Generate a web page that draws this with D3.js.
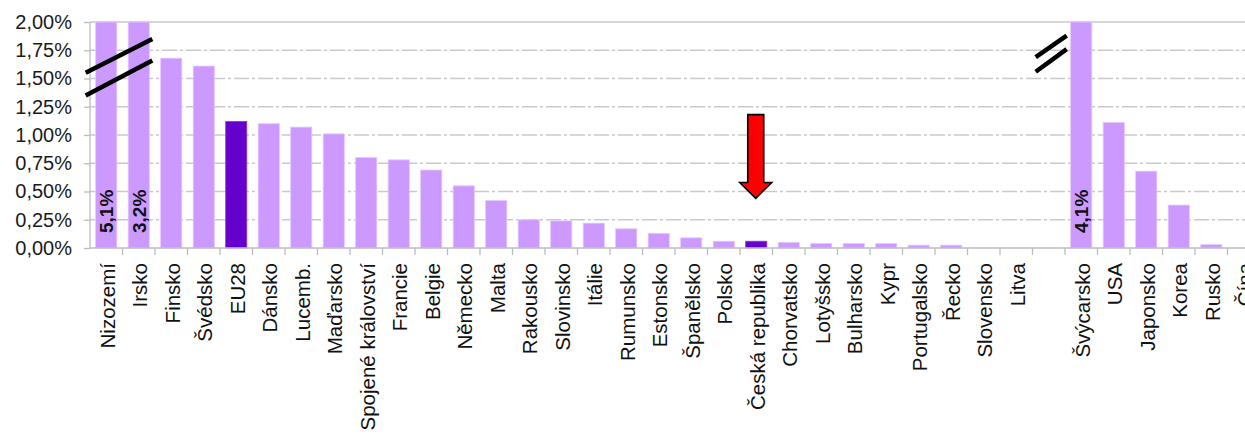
<!DOCTYPE html>
<html><head><meta charset="utf-8">
<script src="https://cdn.jsdelivr.net/npm/d3@7"></script>
<style>
html,body{margin:0;padding:0;background:#fff;overflow:hidden}
svg{display:block;font-family:"Liberation Sans",Arial,sans-serif}
</style></head>
<body>
<svg id="c" width="1245" height="437"></svg>
<script>
const categories = ["Nizozemí","Irsko","Finsko","Švédsko","EU28","Dánsko","Lucemb.","Maďarsko","Spojené království","Francie","Belgie","Německo","Malta","Rakousko","Slovinsko","Itálie","Rumunsko","Estonsko","Španělsko","Polsko","Česká republika","Chorvatsko","Lotyšsko","Bulharsko","Kypr","Portugalsko","Řecko","Slovensko","Litva"," ","Švýcarsko","USA","Japonsko","Korea","Rusko","Čína"];
const values = [5.1,3.2,1.68,1.61,1.12,1.10,1.07,1.01,0.80,0.78,0.69,0.55,0.42,0.25,0.24,0.22,0.17,0.13,0.09,0.06,0.06,0.05,0.04,0.04,0.04,0.025,0.025,0,0,null,4.1,1.11,0.68,0.38,0.03,0];
const highlighted = ["EU28","Česká republika"];
const yTicks = [0,0.25,0.5,0.75,1,1.25,1.5,1.75,2];
const yMax = 2;

const svg = d3.select("#c");
const x = d3.scaleBand().domain(categories).range([90,1260]).paddingInner(0.35).paddingOuter(0.175);
const y = d3.scaleLinear().domain([0,yMax]).range([248,22]);
const step = x.step();
const fmt = v => d3.format(".2f")(v).replace(".",",") + "%";
const fmt1 = v => d3.format(".1f")(v).replace(".",",") + "%";

// gridlines
svg.append("g").selectAll("line").data(yTicks.filter(t=>t>0)).join("line")
  .attr("x1",90).attr("x2",1245).attr("y1",d=>y(d)).attr("y2",d=>y(d))
  .attr("stroke","#c9c9c9").attr("stroke-width",1.3)
  .attr("stroke-dasharray",d=>d===yMax?null:"15,3,3,3");

// y axis
const yAxis = d3.axisLeft(y).tickValues(yTicks).tickFormat(fmt).tickSize(6).tickPadding(12);
const gy = svg.append("g").attr("transform","translate(90,0)").call(yAxis);
gy.select(".domain").attr("stroke","#bdbdbd").attr("stroke-width",1.3).attr("d","M0,22V248");
gy.selectAll(".tick line").attr("stroke","#bdbdbd").attr("stroke-width",1.3);
gy.selectAll(".tick text").attr("font-size","20px").attr("fill","#1a1a1a").attr("font-family","Liberation Sans, Arial, sans-serif");

// bars
svg.append("g").selectAll("rect").data(categories.map((c,i)=>({c,v:values[i]})).filter(d=>d.v!==null)).join("rect")
  .attr("x",d=>x(d.c)).attr("width",x.bandwidth())
  .attr("y",d=>y(Math.min(d.v,yMax))).attr("height",d=>y(0)-y(Math.min(d.v,yMax)))
  .attr("fill",d=>highlighted.includes(d.c)?"#6600CC":"#CC99FF")
  .attr("stroke",d=>highlighted.includes(d.c)?"#8a3ad6":"#e3c8ff").attr("stroke-width",0.8);

// x axis baseline & ticks
svg.append("line").attr("x1",90).attr("x2",1245).attr("y1",y(0)).attr("y2",y(0)).attr("stroke","#bdbdbd").attr("stroke-width",1.3);
svg.append("g").selectAll("line").data(categories).join("line")
  .attr("x1",d=>x(d)+x.bandwidth()+step*0.175).attr("x2",d=>x(d)+x.bandwidth()+step*0.175)
  .attr("y1",y(0)).attr("y2",y(0)+7).attr("stroke","#bdbdbd").attr("stroke-width",1.3);

// x labels
svg.append("g").selectAll("text").data(categories).join("text")
  .attr("transform",d=>`translate(${x(d)+x.bandwidth()/2+1},263) rotate(-90)`)
  .attr("text-anchor","end").attr("dy","0.36em")
  .attr("font-size","20.5px").attr("fill","#111").text(d=>d.trim());

// value labels for clipped bars
svg.append("g").selectAll("text").data(categories.map((c,i)=>({c,v:values[i]})).filter(d=>d.v!==null&&d.v>yMax)).join("text")
  .attr("transform",d=>`translate(${x(d.c)+x.bandwidth()/2},233) rotate(-90)`)
  .attr("text-anchor","start").attr("dy","0.36em")
  .attr("font-size","19px").attr("font-weight","bold").attr("fill","#111").text(d=>fmt1(d.v));

// break marks
const bx0 = x("Nizozemí") - 10, bx1 = x("Irsko") + x.bandwidth() + 3;
[[y(1.55),y(1.85)],[y(1.35),y(1.66)]].forEach(([a,b])=>{
  svg.append("line").attr("x1",bx0).attr("x2",bx1).attr("y1",a).attr("y2",b).attr("stroke","#000").attr("stroke-width",4.5);
});
const rx1 = x("Švýcarsko") - 4, rx0 = rx1 - 31;
[[y(1.69),y(1.88)],[y(1.56),y(1.76)]].forEach(([a,b])=>{
  svg.append("line").attr("x1",rx0).attr("x2",rx1).attr("y1",a).attr("y2",b).attr("stroke","#000").attr("stroke-width",4.5);
});

// red arrow
const ac = x("Česká republika") + x.bandwidth()/2 - 0.5;
const aTop = y(1.18), aNeck = y(0.58), aTip = y(0.44);
svg.append("path")
  .attr("d",`M${ac-8},${aTop}H${ac+8}V${aNeck}H${ac+16}L${ac},${aTip}L${ac-16},${aNeck}H${ac-8}Z`)
  .attr("fill","#ff0000").attr("stroke","#000").attr("stroke-width",1.6);
</script>
</body></html>
